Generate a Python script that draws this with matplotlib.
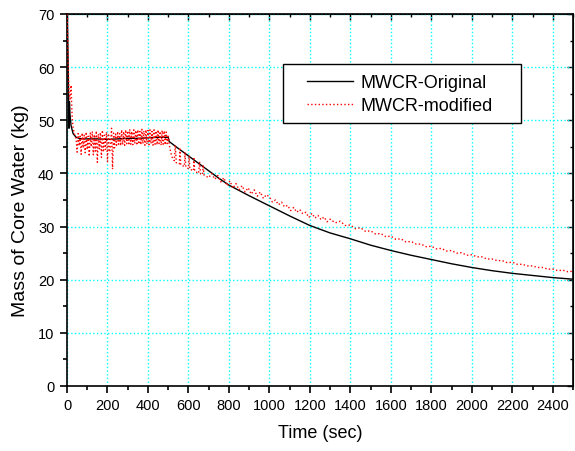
import matplotlib
matplotlib.use("Agg")
import matplotlib.pyplot as plt
from matplotlib.patches import Rectangle
from matplotlib.ticker import MultipleLocator

plt.rcParams['font.family'] = ['Liberation Sans', 'DejaVu Sans']

# MWCR-Original (black)
orig_t = [0, 5, 10, 12, 15, 20, 30, 45, 60, 80, 100, 150, 200, 250, 300, 350,
          400, 450, 500, 505, 550, 600, 650, 700, 750, 800, 900, 1000, 1100,
          1200, 1300, 1400, 1500, 1600, 1700, 1800, 1900, 2000, 2100, 2200,
          2300, 2400, 2500]
orig_m = [75, 62, 48.5, 53.5, 51, 49, 47.5, 46.8, 46.6, 46.5, 46.5, 46.5, 46.4,
          46.5, 46.6, 46.6, 46.7, 46.8, 46.8, 46.0, 44.7, 43.3, 41.9, 40.5,
          39.1, 37.8, 35.8, 33.9, 32.0, 30.2, 28.8, 27.7, 26.5, 25.5, 24.6,
          23.8, 23.0, 22.3, 21.7, 21.2, 20.8, 20.4, 20.1]

# MWCR-modified (red)
mod_t = [0, 5, 10, 15, 20, 25, 30, 40,
         45, 50, 55, 60, 65, 70, 75, 80, 85, 90, 95, 100, 105, 110, 115, 120,
         125, 130, 135, 140, 145, 150, 155, 160, 165, 170, 175, 180, 185, 190,
         195, 200, 205, 210, 215, 220, 225, 230, 235, 240, 245, 250, 255, 260,
         265, 270, 275, 280, 285, 290, 295, 300, 305, 310, 315, 320, 325, 330,
         335, 340, 345, 350, 355, 360, 365, 370, 375, 380, 385, 390, 395, 400,
         405, 410, 415, 420, 425, 430, 435, 440, 445, 450, 455, 460, 465, 470,
         475, 480, 485, 490, 495, 500,
         505, 512, 520, 530, 535, 540, 555, 558, 562, 580, 583, 587, 600, 603,
         607, 625, 627, 631, 650, 655, 660, 670, 673, 677,
         700, 715, 730, 745, 760, 775, 790, 805, 820, 835, 850, 865, 880, 895,
         910, 925, 940, 955, 970, 985,
         1000, 1015, 1030, 1045, 1060, 1075, 1090, 1105, 1120, 1135, 1150,
         1165, 1180, 1195, 1210, 1225, 1240, 1255, 1270, 1285,
         1300, 1325, 1350, 1375, 1400, 1425, 1450, 1475, 1500, 1525, 1550,
         1575, 1600, 1625, 1650, 1675, 1700, 1725, 1750, 1775, 1800, 1825,
         1850, 1875, 1900, 1925, 1950, 1975, 2000, 2025, 2050, 2075, 2100,
         2125, 2150, 2175, 2200, 2225, 2250, 2275, 2300, 2325, 2350, 2375,
         2400, 2425, 2450, 2475, 2500]
mod_m = [72, 62, 55, 54, 56.6, 51, 48.5, 47.0,
         46.5, 44.0, 47.5, 45.2, 47.0, 43.6, 47.6, 44.8, 47.2, 43.9, 47.8, 44.5,
         47.0, 43.2, 47.6, 45.0, 47.9, 43.5, 47.3, 44.2, 48.0, 42.1, 47.4, 44.6,
         47.7, 43.0, 48.1, 44.0, 47.2, 44.5, 47.8, 42.2, 47.5, 44.0, 45.0, 48.5,
         40.8, 47.6, 44.8, 47.4, 45.3, 47.9, 45.5, 47.5, 45.2, 48.2, 45.4, 47.9,
         45.3, 48.2, 45.6, 48.0, 45.3, 48.3, 45.5, 47.9, 45.4, 48.2, 45.6, 48.1,
         45.3, 48.2, 45.5, 47.9, 45.4, 48.3, 45.6, 48.0, 45.3, 48.2, 45.5, 48.1,
         45.4, 48.2, 45.6, 47.9, 45.3, 48.2, 45.5, 48.0, 45.4, 48.2, 45.6, 47.9,
         45.3, 48.1, 45.5, 48.0, 45.4, 47.8, 45.6, 47.0,
         45.5, 44.0, 43.0, 42.4, 45.3, 42.0, 41.8, 44.6, 41.6, 41.3, 44.0, 41.2,
         40.9, 43.4, 40.8, 40.5, 42.8, 40.4, 40.0, 42.2, 39.9, 39.8, 41.6, 39.7,
         39.2, 40.0, 38.9, 39.6, 38.4, 39.2, 37.7, 38.6, 37.2, 38.1, 36.9, 37.7,
         36.5, 37.3, 36.1, 36.9, 35.7, 36.5, 35.3, 36.0,
         35.6, 34.6, 35.0, 34.1, 34.6, 33.7, 34.0, 33.0, 33.6, 32.7, 33.2, 32.4,
         32.7, 31.7, 32.5, 31.6, 32.1, 31.3, 31.8, 30.9,
         31.4, 30.7, 31.0, 30.2, 30.3, 29.6, 29.8, 29.1, 29.2, 28.6, 28.7, 28.1,
         28.2, 27.6, 27.7, 27.1, 27.2, 26.7, 26.7, 26.2, 26.3, 25.8, 25.9, 25.4,
         25.5, 25.0, 25.1, 24.6, 24.7, 24.3, 24.3, 23.9, 23.9, 23.6, 23.6, 23.2,
         23.3, 22.9, 22.9, 22.6, 22.6, 22.3, 22.3, 22.0, 22.0, 21.7, 21.8, 21.5,
         21.6]

fig = plt.figure(figsize=(5.75, 4.52), dpi=100)
ax = fig.add_axes([67 / 575, 65 / 452, 506 / 575, 372 / 452])

ax.plot(orig_t, orig_m, color='black', lw=1.0, label='MWCR-Original', zorder=3)
ax.plot(mod_t, mod_m, color='red', lw=1.0, ls=':', label='MWCR-modified', zorder=4)

ax.set_xlim(0, 2500)
ax.set_ylim(0, 70)
ax.xaxis.set_major_locator(MultipleLocator(200))
ax.xaxis.set_minor_locator(MultipleLocator(100))
ax.yaxis.set_major_locator(MultipleLocator(10))
ax.yaxis.set_minor_locator(MultipleLocator(5))
ax.tick_params(which='major', direction='out', length=5, width=1.2,
               labelsize=10.5, pad=4)
ax.tick_params(which='minor', direction='out', length=3, width=1.2)

# inward ticks on the top and right
top = ax.secondary_xaxis('top')
top.xaxis.set_major_locator(MultipleLocator(200))
top.xaxis.set_minor_locator(MultipleLocator(100))
top.tick_params(which='major', direction='in', length=4, width=1.0, labeltop=False)
top.tick_params(which='minor', direction='in', length=2.5, width=1.0)
right = ax.secondary_yaxis('right')
right.yaxis.set_major_locator(MultipleLocator(10))
right.yaxis.set_minor_locator(MultipleLocator(5))
right.tick_params(which='major', direction='in', length=4, width=1.0, labelright=False)
right.tick_params(which='minor', direction='in', length=2.5, width=1.0)

for s in ax.spines.values():
    s.set_linewidth(1.2)

ax.grid(True, which='major', color='#00ffff', ls=':', lw=1.0, zorder=0)
ax.set_axisbelow(True)

ax.set_xlabel('Time (sec)', fontsize=13, labelpad=8)
ax.set_ylabel('Mass of Core Water (kg)', fontsize=14)
ax.yaxis.set_label_coords(-0.075, 0.473)

# legend box (Origin style: wide side padding)
ax.add_patch(Rectangle((0.427, 0.707), 0.470, 0.159, transform=ax.transAxes,
                       facecolor='white', edgecolor='black', lw=1.0, zorder=5))
leg = ax.legend(loc='upper left', bbox_to_anchor=(0.474, 0.838), fontsize=13,
                handlelength=2.55, handletextpad=0.4, labelspacing=0.32,
                borderpad=0, borderaxespad=0, frameon=False)
leg.set_zorder(6)

fig.savefig('out.png', dpi=100)
